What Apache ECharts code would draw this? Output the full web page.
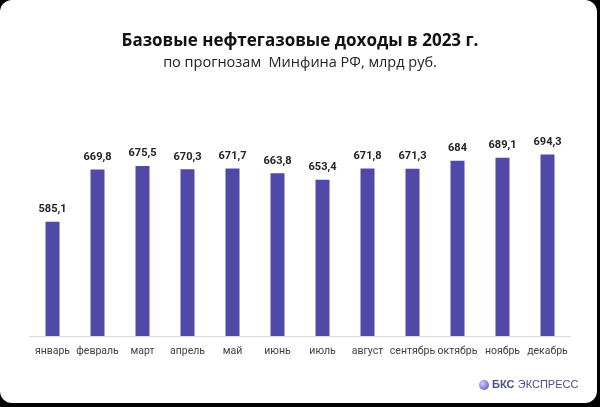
<!DOCTYPE html>
<html><head><meta charset="utf-8">
<script src="https://cdn.jsdelivr.net/npm/echarts@6/dist/echarts.min.js"></script>
<style>
html,body{margin:0;padding:0;background:#000;width:600px;height:407px;overflow:hidden}
#card{position:absolute;left:0;top:0;width:597px;height:403px;background:#fff;border-radius:12px}
#c{position:absolute;left:0;top:0;width:600px;height:407px}
</style></head><body>
<div id="card"></div>
<div id="c"></div>
<script>
const categories = ['январь','февраль','март','апрель','май','июнь','июль','август','сентябрь','октябрь','ноябрь','декабрь'];
const values = [585.1, 669.8, 675.5, 670.3, 671.7, 663.8, 653.4, 671.8, 671.3, 684, 689.1, 694.3];
const titleText = 'Базовые нефтегазовые доходы в 2023 г.';
const subtitleText = 'по прогнозам  Минфина РФ, млрд руб.';

const chart = echarts.init(document.getElementById('c'), null, {renderer:'canvas'});
chart.setOption({
  backgroundColor: 'transparent',
  animation: false,
  title: {
    text: titleText,
    subtext: subtitleText,
    left: 'center',
    top: 28,
    itemGap: 5,
    textStyle: {fontFamily: 'Open Sans', fontWeight: 'bold', fontSize: 17, color: '#111'},
    subtextStyle: {fontFamily: 'Open Sans', fontSize: 14.5, color: '#222'}
  },
  grid: {left: 30, right: 30, top: 151, bottom: 71},
  xAxis: {
    type: 'category',
    data: categories,
    axisLine: {lineStyle: {color: '#d9d9d9', width: 1}},
    axisTick: {show: false},
    axisLabel: {color: '#404040', fontFamily: 'Roboto', fontSize: 10.5, margin: 10, interval: 0}
  },
  yAxis: {
    type: 'value', min: 400, max: 700,
    show: false,
    splitLine: {show: false}
  },
  series: [{
    type: 'bar',
    data: values,
    barWidth: 14,
    itemStyle: {color: '#5049a8'},
    label: {
      show: true, position: 'top', distance: 7,
      fontFamily: 'Roboto', fontWeight: 'bold', fontSize: 11, color: '#222',
      formatter: p => String(p.value).replace('.', ',')
    }
  }],
  graphic: [
    {type: 'circle', shape: {cx: 484, cy: 385, r: 5},
     style: {fill: new echarts.graphic.RadialGradient(0.35, 0.35, 0.8, [{offset:0,color:'#d2cff7'},{offset:1,color:'#5a55c8'}])}},
    {type: 'text', left: 492, top: 379,
     style: {text: '{b|БКС} {n|ЭКСПРЕСС}', rich: {
       b: {fontFamily: 'Liberation Sans', fontWeight: 'bold', fontSize: 11, fill: '#4a4d8f', color: '#4a4d8f'},
       n: {fontFamily: 'Liberation Sans', fontSize: 11, fill: '#4a4d8f', color: '#4a4d8f'}
     }}}
  ]
});
</script>
</body></html>
